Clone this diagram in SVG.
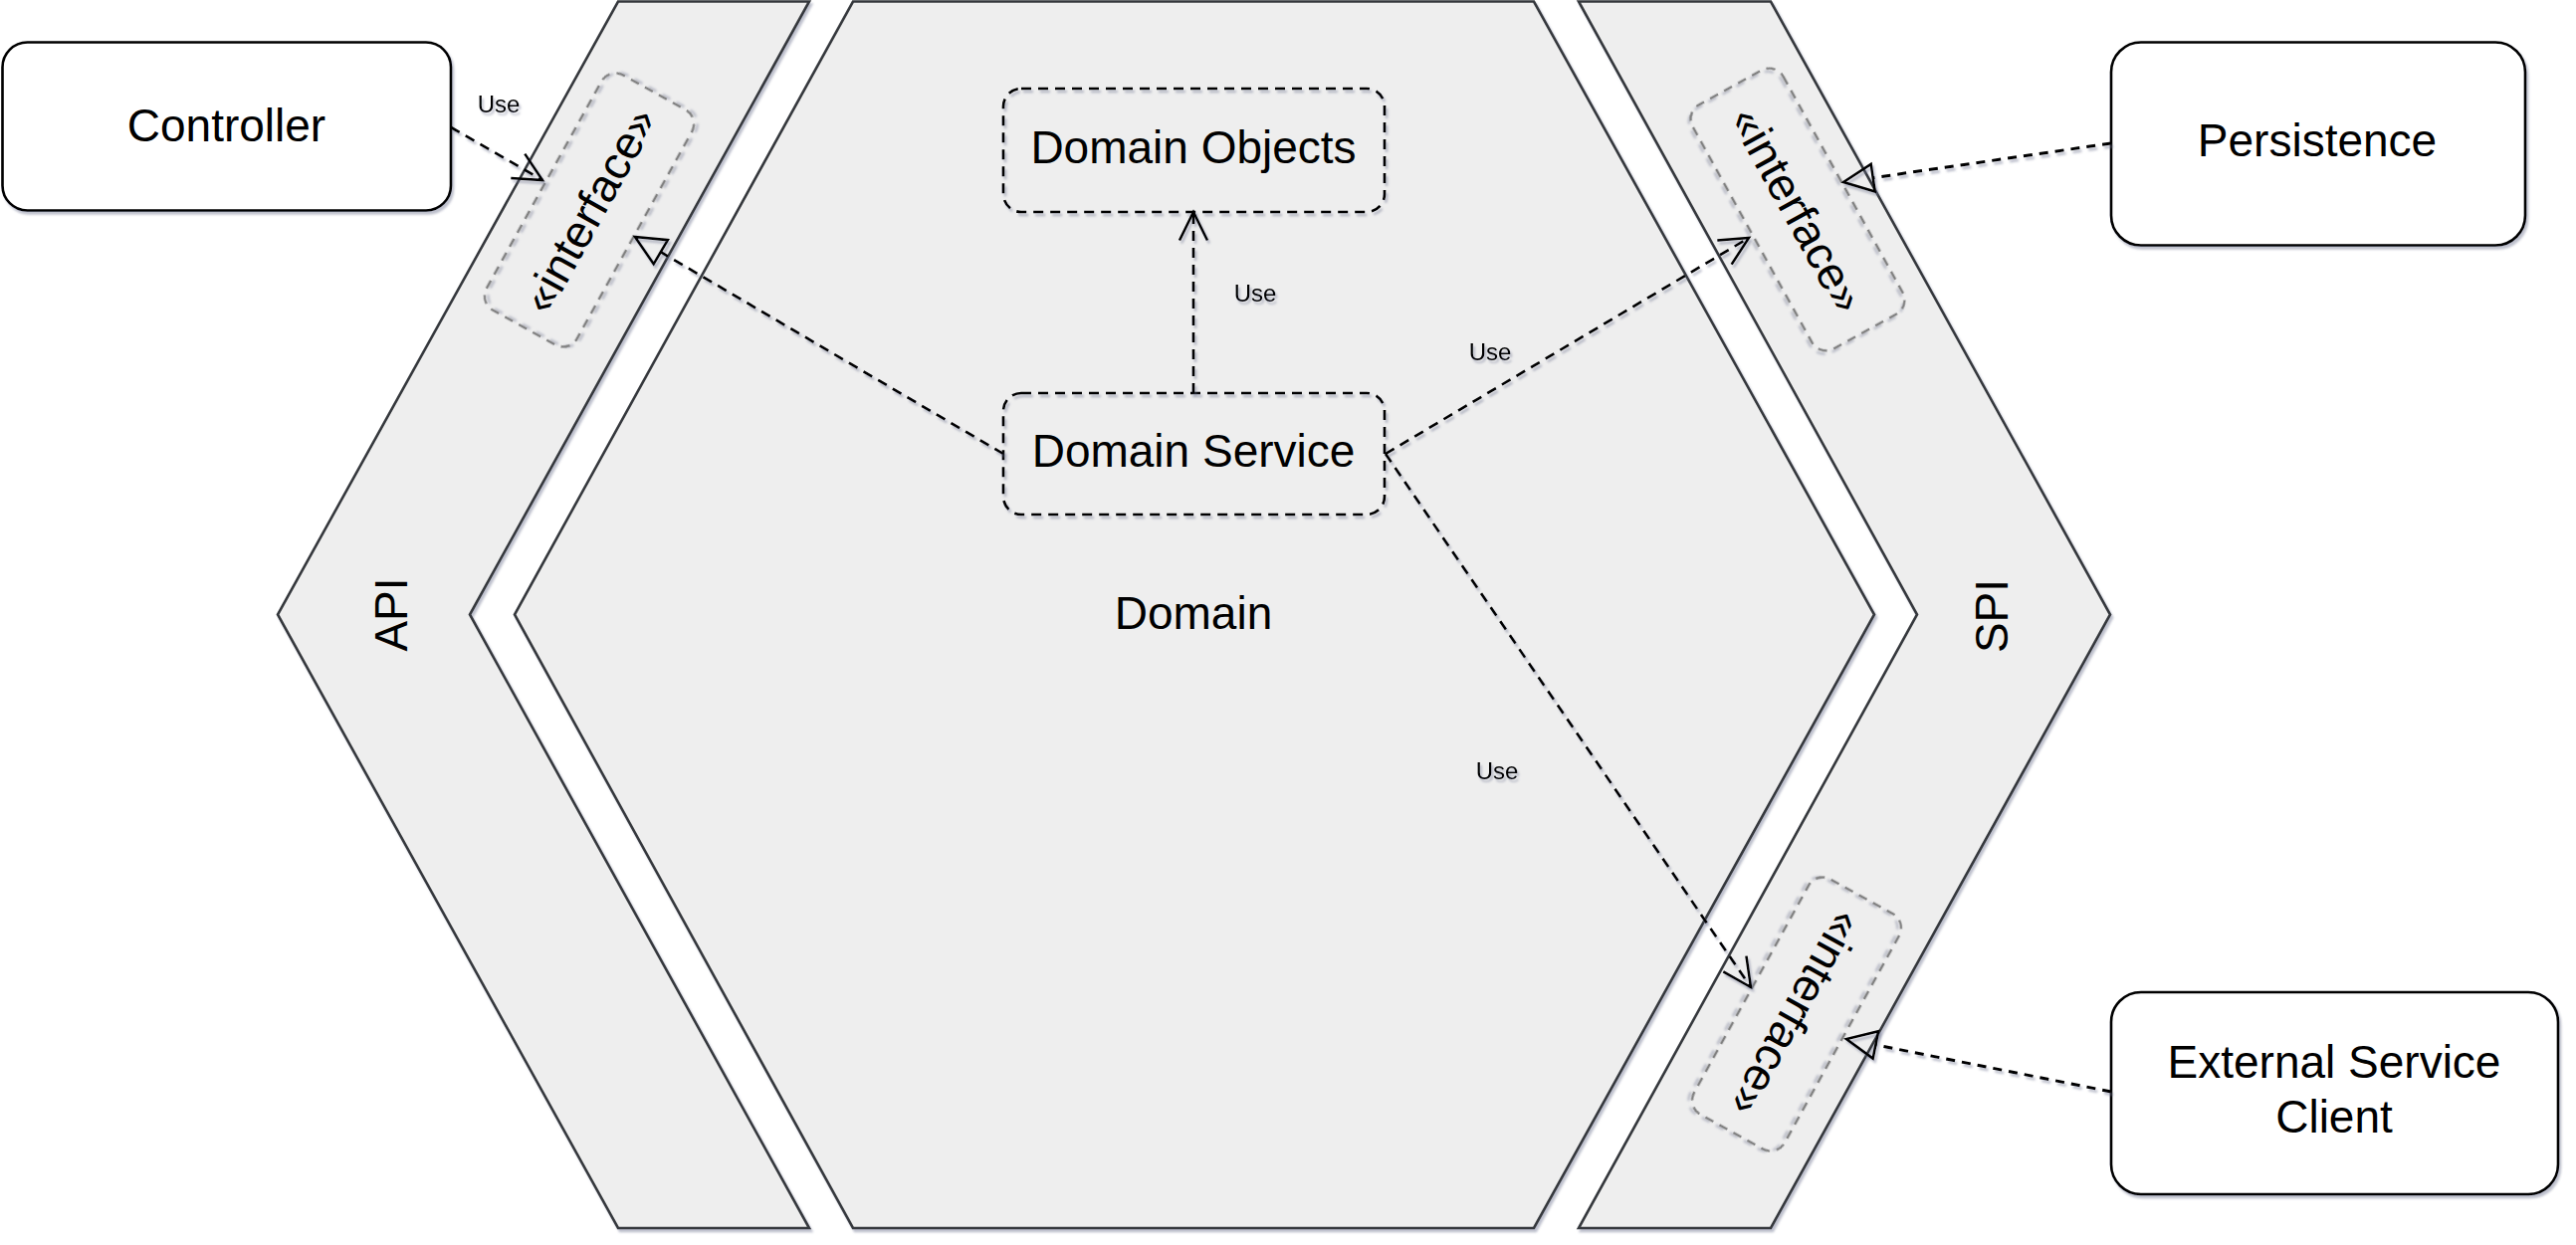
<svg xmlns="http://www.w3.org/2000/svg" width="2588" height="1251" viewBox="0 0 2588 1251">
  <style>
    .band { fill:#eeeeee; stroke:#36393d; stroke-width:2.6; stroke-linejoin:miter; }
    .box { fill:#ffffff; stroke:#000000; stroke-width:2.6; }
    .dbox { fill:none; stroke:#000000; stroke-width:2.6; stroke-dasharray:10 7; }
    .iface { fill:none; stroke:#808080; stroke-width:2.4; stroke-dasharray:9 7; }
    .edge { fill:none; stroke:#000000; stroke-width:2.6; stroke-dasharray:10 7; }
    .edge3 { fill:none; stroke:#000000; stroke-width:3; stroke-dasharray:9 7; }
    text { font-family:"Liberation Sans", Arial, Helvetica, sans-serif; fill:#000000; }
    .t45 { font-size:46px; text-anchor:middle; }
    .t24 { font-size:24px; text-anchor:middle; }
  </style>
  <defs>
    <filter id="sh" filterUnits="userSpaceOnUse" x="0" y="0" width="2588" height="1251">
      <feDropShadow dx="2" dy="3" stdDeviation="1.3" flood-color="#6e7391" flood-opacity="0.45"/>
    </filter>
    <filter id="shb" x="-10%" y="-10%" width="120%" height="120%">
      <feDropShadow dx="2" dy="3" stdDeviation="1.3" flood-color="#6e7391" flood-opacity="0.45"/>
    </filter>
    <marker id="open" markerUnits="userSpaceOnUse" viewBox="-36 -20 42 40" markerWidth="42" markerHeight="40" refX="0" refY="0" orient="auto">
      <path d="M-28.5,-14 L0,0 L-28.5,14" fill="none" stroke="#000000" stroke-width="2.5"/>
    </marker>
    <marker id="tri" markerUnits="userSpaceOnUse" viewBox="-6 -20 44 40" markerWidth="44" markerHeight="40" refX="0" refY="0" orient="auto">
      <path d="M0,-14 L30,0 L0,14 Z" fill="none" stroke="#000000" stroke-width="2.5" stroke-linejoin="miter"/>
    </marker>
  </defs>

  <rect x="0" y="0" width="2588" height="1251" fill="#ffffff"/>

  <g id="api" filter="url(#sh)">
    <path class="band" d="M621,1.5 L813,1.5 L472,617.5 L813,1234 L621,1234 L279,617.5 Z"/>
  </g>
  <g id="domain" filter="url(#sh)">
    <path class="band" d="M857,1.5 L1541,1.5 L1883,617.5 L1541,1234 L857,1234 L517,617.5 Z"/>
  </g>
  <g id="spi" filter="url(#sh)">
    <path class="band" d="M1586,1.5 L1779,1.5 L2120,617.5 L1779,1234 L1586,1234 L1926,617.5 Z"/>
  </g>
  <g id="layer-labels">
    <text class="t45" transform="translate(392.8,617.5) rotate(-90)" y="16">API</text>
    <text class="t45" x="1199" y="632">Domain</text>
    <text class="t45" transform="translate(2001,619) rotate(-90)" y="16">SPI</text>
  </g>

  <g id="api-interface" transform="translate(592,211) rotate(-60.96)">
    <rect class="iface" x="-135" y="-52" width="270" height="104" rx="16" ry="16" filter="url(#shb)"/>
    <text class="t45" y="16">«interface»</text>
  </g>
  <g id="spi-interface-persistence" transform="translate(1806,210.5) rotate(61.07)">
    <rect class="iface" x="-140" y="-52" width="280" height="104" rx="16" ry="16" filter="url(#shb)"/>
    <text class="t45" y="16">«interface»</text>
  </g>
  <g id="spi-interface-external" transform="translate(1805,1019) rotate(118.93)">
    <rect class="iface" x="-135" y="-52" width="270" height="104" rx="16" ry="16" filter="url(#shb)"/>
    <text class="t45" y="16">«interface»</text>
  </g>

  <g id="domain-objects">
    <rect class="dbox" x="1008" y="89" width="383" height="124" rx="18" ry="18" filter="url(#shb)"/>
    <text class="t45" x="1199" y="164">Domain Objects</text>
  </g>
  <g id="domain-service">
    <rect class="dbox" x="1008" y="395" width="383" height="122" rx="18" ry="18" filter="url(#shb)"/>
    <text class="t45" x="1199" y="469">Domain Service</text>
  </g>

  <g id="controller">
    <rect class="box" x="2.5" y="42.5" width="450.5" height="169" rx="25" ry="25" filter="url(#shb)"/>
    <text class="t45" x="227.5" y="142">Controller</text>
  </g>
  <g id="persistence">
    <rect class="box" x="2121" y="42.5" width="416" height="204" rx="30" ry="30" filter="url(#shb)"/>
    <text class="t45" x="2328" y="157">Persistence</text>
  </g>
  <g id="external-service-client">
    <rect class="box" x="2121" y="997" width="449" height="203" rx="30" ry="30" filter="url(#shb)"/>
    <text class="t45" x="2345" y="1083">External Service</text>
    <text class="t45" x="2345" y="1138">Client</text>
  </g>

  <g id="connectors" filter="url(#sh)">
    <path class="edge" d="M453,128 L545,181" marker-end="url(#open)"/>
    <text class="t24" x="501" y="113">Use</text>
    <path class="edge" d="M1199,395 L1199,213" marker-end="url(#open)"/>
    <text class="t24" x="1261" y="303">Use</text>
    <path class="edge" d="M1392,456 L1757,239" marker-end="url(#open)"/>
    <text class="t24" x="1497" y="362">Use</text>
    <path class="edge" d="M1392,456 L1759,992" marker-end="url(#open)"/>
    <text class="t24" x="1504" y="783">Use</text>
    <path class="edge" d="M1008,456 L663.8,253.2" marker-end="url(#tri)"/>
    <path class="edge3" d="M2121,144 L1881.7,178.7" marker-end="url(#tri)"/>
    <path class="edge3" d="M2121,1097 L1884.4,1049.9" marker-end="url(#tri)"/>
  </g>
</svg>
